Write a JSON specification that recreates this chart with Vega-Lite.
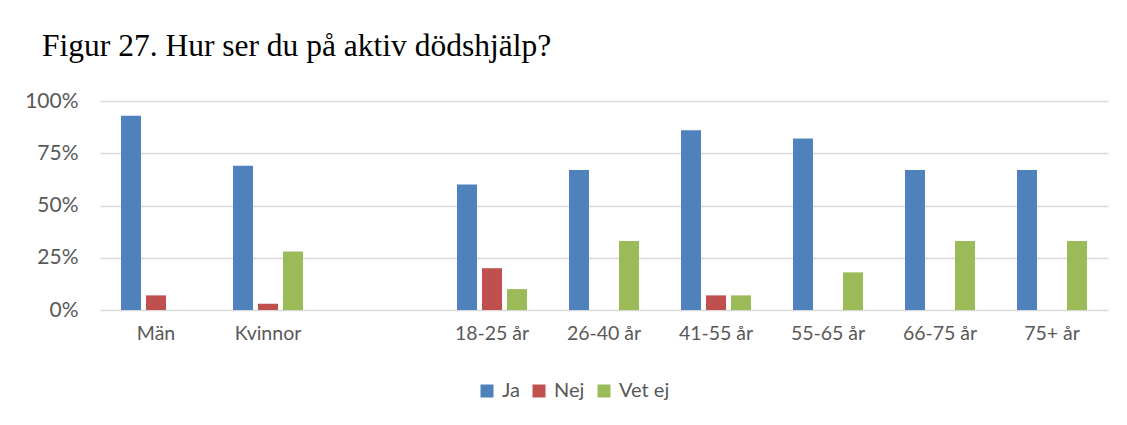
{
  "$schema": "https://vega.github.io/schema/vega-lite/v6.json",
  "autosize": "none",
  "width": 1008,
  "height": 209,
  "padding": {"left": 100, "top": 101, "right": 19, "bottom": 115},
  "background": "white",
  "title": {
    "text": "Figur 27. Hur ser du på aktiv dödshjälp?",
    "anchor": "start",
    "frame": "group",
    "dx": -58,
    "offset": 28,
    "font": "Liberation Serif",
    "fontSize": 31.5,
    "fontWeight": "normal",
    "color": "#000000"
  },
  "data": {
    "values": [
      {"group": "Män", "resp": "Ja", "value": 0.93},
      {"group": "Män", "resp": "Nej", "value": 0.07},
      {"group": "Män", "resp": "Vet ej", "value": 0},
      {"group": "Kvinnor", "resp": "Ja", "value": 0.69},
      {"group": "Kvinnor", "resp": "Nej", "value": 0.03},
      {"group": "Kvinnor", "resp": "Vet ej", "value": 0.28},
      {"group": "18-25 år", "resp": "Ja", "value": 0.60},
      {"group": "18-25 år", "resp": "Nej", "value": 0.20},
      {"group": "18-25 år", "resp": "Vet ej", "value": 0.10},
      {"group": "26-40 år", "resp": "Ja", "value": 0.67},
      {"group": "26-40 år", "resp": "Nej", "value": 0},
      {"group": "26-40 år", "resp": "Vet ej", "value": 0.33},
      {"group": "41-55 år", "resp": "Ja", "value": 0.86},
      {"group": "41-55 år", "resp": "Nej", "value": 0.07},
      {"group": "41-55 år", "resp": "Vet ej", "value": 0.07},
      {"group": "55-65 år", "resp": "Ja", "value": 0.82},
      {"group": "55-65 år", "resp": "Nej", "value": 0},
      {"group": "55-65 år", "resp": "Vet ej", "value": 0.18},
      {"group": "66-75 år", "resp": "Ja", "value": 0.67},
      {"group": "66-75 år", "resp": "Nej", "value": 0},
      {"group": "66-75 år", "resp": "Vet ej", "value": 0.33},
      {"group": "75+ år", "resp": "Ja", "value": 0.67},
      {"group": "75+ år", "resp": "Nej", "value": 0},
      {"group": "75+ år", "resp": "Vet ej", "value": 0.33}
    ]
  },
  "mark": {"type": "bar"},
  "encoding": {
    "x": {
      "field": "group",
      "type": "nominal",
      "scale": {
        "domain": ["Män", "Kvinnor", " ", "18-25 år", "26-40 år", "41-55 år", "55-65 år", "66-75 år", "75+ år"],
        "paddingInner": 0.375,
        "paddingOuter": 0.1875
      },
      "axis": {
        "title": null,
        "labelAngle": 0,
        "domain": false,
        "ticks": false,
        "labelPadding": 14,
        "labelFont": "Lato",
        "labelFontSize": 19.5,
        "labelColor": "#595959"
      }
    },
    "xOffset": {
      "field": "resp",
      "type": "nominal",
      "scale": {"domain": ["Ja", "Nej", "Vet ej"], "paddingInner": 0.2, "paddingOuter": 0}
    },
    "y": {
      "field": "value",
      "type": "quantitative",
      "scale": {"domain": [0, 1], "nice": false},
      "axis": {
        "title": null,
        "values": [0, 0.25, 0.5, 0.75, 1],
        "format": ".0%",
        "domain": false,
        "ticks": false,
        "labelPadding": 22,
        "labelFont": "Lato",
        "labelFontSize": 21,
        "labelColor": "#595959",
        "gridColor": "#d9d9d9",
        "gridWidth": 1.5
      }
    },
    "color": {
      "field": "resp",
      "type": "nominal",
      "scale": {"domain": ["Ja", "Nej", "Vet ej"], "range": ["#4f81bd", "#c0504d", "#9bbb59"]},
      "legend": {
        "title": null,
        "orient": "none",
        "direction": "horizontal",
        "legendX": 377,
        "legendY": 280,
        "symbolType": "square",
        "symbolSize": 169,
        "symbolStrokeWidth": 0,
        "symbolOpacity": 1,
        "labelFont": "Lato",
        "labelFontSize": 20,
        "labelColor": "#595959",
        "labelOffset": 5,
        "columnPadding": 9
      }
    }
  },
  "config": {
    "view": {"stroke": null}
  }
}
